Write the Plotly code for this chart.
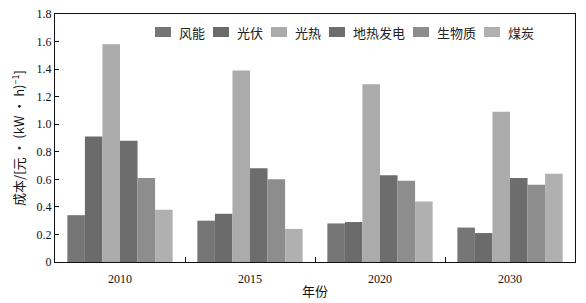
import plotly.graph_objects as go

years = ["2010", "2015", "2020", "2030"]
series_names = ["风能", "光伏", "光热", "地热发电", "生物质", "煤炭"]
wind = [0.34, 0.30, 0.28, 0.25]
pv = [0.91, 0.35, 0.29, 0.21]
csp = [1.58, 1.39, 1.29, 1.09]
geo = [0.88, 0.68, 0.63, 0.61]
biomass = [0.61, 0.60, 0.59, 0.56]
coal = [0.38, 0.24, 0.44, 0.64]
colors = ["#767676", "#6b6b6b", "#ababab", "#6d6d6d", "#8d8d8d", "#b0b0b0"]

serif = "Liberation Serif, Times New Roman, Noto Sans CJK SC, serif"
cjk = "Noto Sans CJK SC, Liberation Serif, serif"

W, H = 586, 303
ML, MR, MT, MB = 55, 11, 14, 41
PW, PH = W - ML - MR, H - MT - MB

fig = go.Figure()
for name, vals, c in zip(series_names, [wind, pv, csp, geo, biomass, coal], colors):
    fig.add_trace(go.Bar(x=years, y=vals, name=name, marker_color=c,
                         marker_line_width=0, showlegend=False))

# manual compact legend (inside the plot, top)
def px_x(p):
    return (p - ML) / PW

def px_y(p):
    return (H - MB - p) / PH

fs = 13
cursor = 155
leg_y = 32
shapes, annots = [], []
for name, c in zip(series_names, colors):
    shapes.append(dict(type="rect", xref="paper", yref="paper",
                       x0=px_x(cursor), x1=px_x(cursor + 16),
                       y0=px_y(leg_y + 5), y1=px_y(leg_y - 5),
                       fillcolor=c, line=dict(width=0)))
    annots.append(dict(xref="paper", yref="paper", x=px_x(cursor + 22), y=px_y(leg_y),
                       xanchor="left", yanchor="middle", text=name, showarrow=False,
                       font=dict(family=cjk, size=fs, color="#222")))
    cursor += 22 + len(name) * fs + 10

fig.update_layout(
    width=W, height=H,
    margin=dict(l=ML, r=MR, t=MT, b=MB, autoexpand=False),
    paper_bgcolor="white", plot_bgcolor="white",
    barmode="group", bargap=0.19, bargroupgap=0,
    shapes=shapes, annotations=annots,
    font=dict(family=serif, size=12, color="#111"),
)
fig.update_xaxes(type="category", showline=True, linecolor="#111", linewidth=1.2,
                 mirror=True, ticks="inside", tickson="boundaries", ticklen=5,
                 tickcolor="#111", showgrid=False, ticklabelstandoff=5, automargin=False,
                 title=dict(text="年份", font=dict(family=cjk, size=13), standoff=2),
                 tickfont=dict(family=serif, size=12))
fig.update_yaxes(range=[0, 1.8], tickvals=[0, 0.2, 0.4, 0.6, 0.8, 1.0, 1.2, 1.4, 1.6, 1.8],
                 ticktext=["0", "0.2", "0.4", "0.6", "0.8", "1.0", "1.2", "1.4", "1.6", "1.8"],
                 showline=True, linecolor="#111", linewidth=1.2, mirror=True, automargin=False,
                 ticks="inside", ticklen=4, tickcolor="#111", showgrid=False, zeroline=False,
                 title=dict(text="成本/[元 · (kW · h)<sup>−1</sup>]", font=dict(family=cjk, size=13), standoff=8),
                 tickfont=dict(family=serif, size=12))

fig.write_html("out.html")
